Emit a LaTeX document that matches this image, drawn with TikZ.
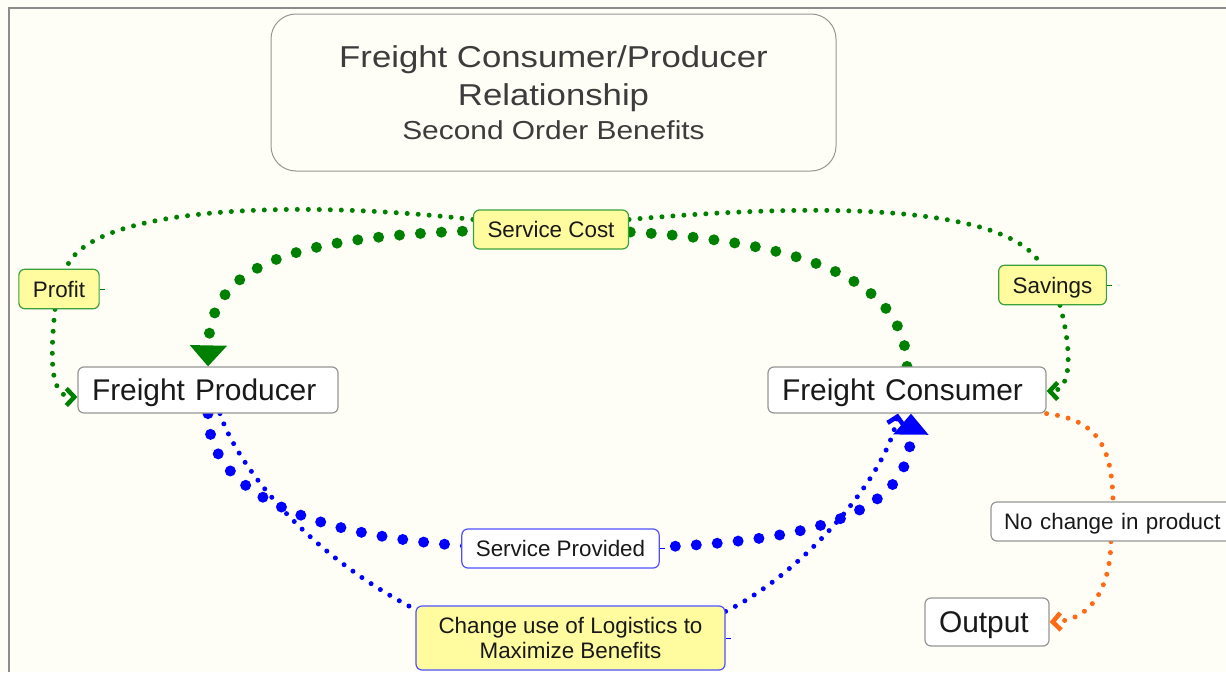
\documentclass[tikz,border=0pt]{standalone}
\usepackage{fontspec}
\setmainfont{Liberation Sans}
\newfontfamily\titlefont[FakeStretch=1.15]{Liberation Sans}
\usetikzlibrary{arrows.meta,calc}
\pgfdeclarelayer{back}
\pgfdeclarelayer{bg}
\pgfsetlayers{back,bg,main}
\definecolor{bgc}{RGB}{254,254,246}
\definecolor{framec}{RGB}{140,140,140}
\definecolor{gdot}{RGB}{0,128,0}
\definecolor{bdot}{RGB}{0,0,255}
\definecolor{odot}{RGB}{255,106,20}
\definecolor{yfill}{RGB}{255,252,160}
\definecolor{gbord}{RGB}{60,160,60}
\definecolor{bbord}{RGB}{80,80,255}
\definecolor{graybord}{RGB}{150,150,150}
\definecolor{txt}{RGB}{25,25,25}
\definecolor{titletxt}{RGB}{60,60,60}
\tikzset{
  titlebox/.style={draw=graybord, line width=1pt, fill=bgc, rounded corners=25pt,
    minimum width=565pt, minimum height=157pt, align=center, text=titletxt,
    font=\titlefont\fontsize{30.2pt}{38pt}\selectfont},
  bigbox/.style={draw=graybord, line width=1.2pt, fill=white, rounded corners=6pt,
    minimum height=46pt, inner xsep=14pt, inner ysep=0pt, align=left, text=txt,
    text height=21.4pt, text depth=0pt,
    font=\fontsize{29.9pt}{34pt}\selectfont},
  smallbox/.style={line width=1.2pt, rounded corners=6pt, minimum height=39.5pt,
    inner xsep=14pt, inner ysep=0pt, text=txt, font=\fontsize{22.4pt}{24.5pt}\selectfont},
  ybox/.style={smallbox, draw=gbord, fill=yfill, text height=16pt, text depth=0pt},
  bwbox/.style={smallbox, draw=bbord, fill=white, text height=16pt, text depth=0pt},
  bybox/.style={smallbox, draw=bbord, fill=yfill, align=center},
  gwbox/.style={smallbox, draw=graybord, fill=white, align=left, text height=16pt, text depth=0pt},
  bigdots/.style={line width=11pt, line cap=round, dash pattern=on 0pt off 21pt},
  thindots/.style={line width=5pt, line cap=round, dash pattern=on 0pt off 11pt},
  bigtri/.style={-{Triangle[width=36pt,length=21pt]}},
  chev/.style={-{Straight Barb[length=8pt,width=17pt,line width=4.5pt]}},
  stub/.style={line width=1pt}
}
\begin{document}
\begin{tikzpicture}[x=1pt,y=-1pt]
\useasboundingbox (0,0) rectangle (1226,672);
\begin{pgfonlayer}{back}
\fill[bgc] (0,0) rectangle (1226,672);
\draw[framec, line width=2pt] (9,672) -- (9,7.5) -- (1226,7.5);
\end{pgfonlayer}

% nodes
\node[titlebox] (title) at (553.5,92.5) {Freight Consumer/Producer\\Relationship\\[-4pt]{\fontsize{26pt}{30pt}\selectfont Second Order Benefits}};
\node[bigbox, text width=232pt] (prod) at (208,390) {Freight Producer};
\node[bigbox, text width=250pt] (cons) at (907,390) {Freight Consumer};
\node[bigbox, text width=96pt, minimum height=48pt] (out) at (987,622) {Output};
\node[ybox] (profit) at (59,289) {Profit};
\node[ybox, minimum height=39pt] (cost) at (551,229.5) {Service Cost};
\node[ybox] (sav) at (1052.5,285) {Savings};
\node[bwbox, minimum height=39pt] (sp) at (560.5,548.5) {Service Provided};
\node[bybox, minimum height=64pt, minimum width=309pt] (chg) at (570.5,638) {Change use of Logistics to\\Maximize Benefits};
\node[gwbox, text width=218pt, inner xsep=13pt, minimum height=39pt] (nc) at (1113,521.5) {No change in product};

% connectors
\begin{pgfonlayer}{bg}
% green thin: service cost -> profit -> producer
\draw[gdot, thindots] ([yshift=10pt]cost.west) .. controls (300,200) and (90,205) .. ([xshift=7pt]profit.north);
\draw[gdot, thindots, chev] ([xshift=-4pt]profit.south) .. controls (50,360) and (50,397) .. ([yshift=-7pt]prod.west);
% green thin: service cost -> savings -> consumer
\draw[gdot, thindots] ([yshift=10pt]cost.east) .. controls (850,200) and (1010,210) .. ([xshift=-11.5pt]sav.north);
\draw[gdot, thindots, chev] ([xshift=7.5pt]sav.south) .. controls (1072,350) and (1072,391) .. ([yshift=-1pt]cons.east);
% green big: consumer -> service cost -> producer
\draw[gdot, bigdots, bigtri] (cons.north) .. controls (905,270) and (780,232) .. (cost.center) .. controls (300,230) and (210,260) .. (prod.north);
% blue thin: producer -> change -> consumer
\draw[bdot, thindots] ([xshift=12pt]prod.south) .. controls (235,460) and (300,550) .. ([yshift=-4pt]chg.north west);
\draw[bdot, thindots, chev] ([yshift=-6pt]chg.north east) .. controls (800,575) and (885,480) .. ([xshift=-9pt]cons.south);
% blue big: producer -> service provided -> consumer
\draw[bdot, bigdots, -{Triangle[width=34pt,length=21pt]}] (prod.south) .. controls (208,500) and (330,550) .. (sp.center) .. controls (800,550) and (910,520) .. ([xshift=4pt]cons.south);
% orange: consumer -> no change -> output
\draw[odot, thindots] (cons.south east) .. controls (1100,420) and (1112,450) .. (nc.north);
\draw[odot, thindots, chev] ([xshift=-2pt]nc.south) .. controls (1110,590) and (1090,620) .. (out.east);
\end{pgfonlayer}

% small stubs at label edges
\draw[gdot, stub] (profit.east) -- ++(5,0);
\draw[gdot, stub] (cost.east) -- ++(5,0);
\draw[gdot, stub] (sav.east) -- ++(5,0);
\draw[bdot, stub] (sp.east) -- ++(5,0);
\draw[bdot, stub] (chg.east) -- ++(5,0);
\end{tikzpicture}
\end{document}
